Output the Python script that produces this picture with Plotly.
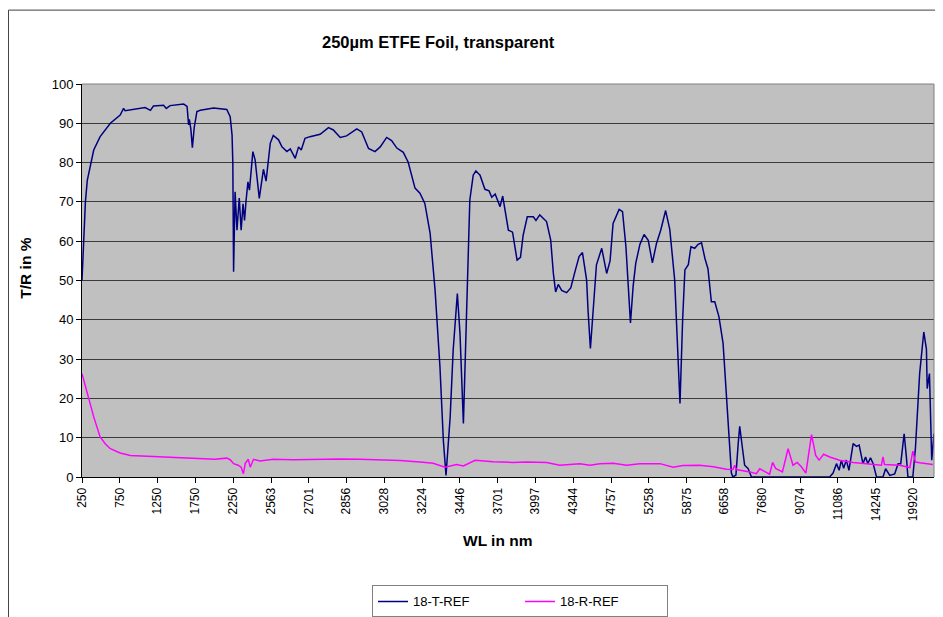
import plotly.graph_objects as go

# Category tick labels (wavelength in nm), evenly spaced on the category axis
tick_labels = ["250", "750", "1250", "1750", "2250", "2563", "2701", "2856", "3028",
               "3224", "3446", "3701", "3997", "4344", "4757", "5258", "5875", "6658",
               "7680", "9074", "11086", "14245", "19920"]

# 18-T-REF transmission: position (in tick-label units) and value (%)
t_pos = [0, 0.03, 0.09, 0.14, 0.22, 0.31, 0.48, 0.75, 1.01, 1.10, 1.14, 1.41, 1.67, 1.81,
         1.89, 2.16, 2.23, 2.33, 2.69, 2.78, 2.82, 2.84, 2.88, 2.92, 2.97, 3.04, 3.13, 3.48,
         3.83, 3.92, 3.97, 3.99, 4.01, 4.05, 4.10, 4.16, 4.21, 4.26, 4.30, 4.34, 4.39, 4.43,
         4.52, 4.58, 4.69, 4.80, 4.87, 4.98, 5.06, 5.20, 5.29, 5.42, 5.51, 5.64, 5.73, 5.80,
         5.90, 6.03, 6.30, 6.52, 6.65, 6.83, 7.00, 7.27, 7.40, 7.58, 7.75, 7.89, 8.06, 8.19,
         8.33, 8.50, 8.63, 8.81, 8.94, 9.07, 9.21, 9.34, 9.47, 9.56, 9.63, 9.74, 9.82, 9.93,
         10.00, 10.09, 10.18, 10.26, 10.35, 10.42, 10.53, 10.66, 10.77, 10.84, 10.93, 11.06,
         11.13, 11.19, 11.28, 11.39, 11.51, 11.60, 11.67, 11.78, 11.94, 12.01, 12.11, 12.29,
         12.40, 12.47, 12.53, 12.60, 12.69, 12.82, 12.93, 13.04, 13.15, 13.24, 13.35, 13.39,
         13.45, 13.52, 13.61, 13.75, 13.88, 13.97, 14.05, 14.21, 14.30, 14.39, 14.45, 14.51,
         14.58, 14.65, 14.76, 14.87, 14.98, 15.09, 15.20, 15.31, 15.44, 15.55, 15.68, 15.74,
         15.82, 15.89, 15.95, 16.04, 16.11, 16.21, 16.30, 16.39, 16.48, 16.56, 16.65, 16.74,
         16.85, 16.96, 17.05, 17.14, 17.18, 17.22, 17.30, 17.36, 17.40, 17.47, 17.53, 17.62,
         17.71, 19.78, 19.87, 19.96, 20.03, 20.09, 20.15, 20.22, 20.29, 20.40, 20.49, 20.56,
         20.66, 20.73, 20.79, 20.86, 20.93, 21.02, 21.19, 21.26, 21.37, 21.50, 21.59, 21.66,
         21.75, 21.81, 21.85, 21.98, 22.05, 22.16, 22.27, 22.34, 22.36, 22.42, 22.48, 22.54]
t_val = [50, 58, 70, 75.5, 79.4, 83.2, 86.6, 90, 92.1, 93.8, 93.2, 93.6, 94, 93.3,
         94.4, 94.6, 93.8, 94.5, 94.9, 94.3, 89.6, 91, 88.5, 83.8, 89, 93, 93.3, 93.9,
         93.5, 91.7, 87, 80, 52.2, 72.6, 62.8, 71, 62.8, 69.5, 65.3, 70.3, 75.1, 73,
         82.8, 80.7, 70.9, 78.3, 75.3, 84.9, 86.9, 85.8, 84, 82.8, 83.5, 81.1, 84, 83.2,
         86.2, 86.6, 87.2, 88.9, 88.3, 86.4, 86.8, 88.6, 87.8, 83.6, 82.8, 84, 86.4, 85.6,
         83.7, 82.6, 80.1, 73.5, 72.2, 69.6, 62, 47.6, 28, 9.3, 0.4, 15.3, 32.3, 46.7,
         36.5, 13.6, 45, 70.5, 76.8, 77.9, 76.8, 73.2, 72.8, 71.2, 72, 68.8,
         71.5, 68.2, 62.8, 62.3, 55.2, 55.9, 61.5, 66.2, 66.2, 65.3, 66.7, 65,
         60.3, 51.8, 47.1, 49, 47.5, 46.9, 48.1, 52.2, 56.1, 57.1, 50.1, 42,
         32.7, 42, 54, 58.2, 51.8, 55, 64.5, 68.1, 67.5, 58.6, 47, 39.2,
         48.5, 54.4, 59.2, 61.7, 60.2, 54.5, 59.5, 62.8, 67.8, 63, 50.1, 35,
         18.7, 40, 52.7, 54, 58.6, 58.2, 59.2, 59.6, 55.6, 53, 44.6, 44.6,
         40.8, 34, 21.2, 8.5, 1, 0, 0.5, 8.5, 12.9, 7.5, 3, 2.2,
         0, 0, 1, 3.4, 1.7, 4.3, 2.2, 4.3, 1.7, 8.5, 7.8, 8.1,
         3.4, 5.1, 3.4, 4.9, 3.4, 0, 0, 2.1, 0.4, 0.8, 3.4, 3.4,
         11, 5, 0, 0, 7.5, 26.3, 36.9, 32.5, 22.5, 26.3, 4.25, 11]

# 18-R-REF reflection: position (in tick-label units) and value (%)
r_pos = [0, 0.09, 0.17, 0.31, 0.48, 0.62, 0.75, 1.01, 1.28, 1.67, 2.07, 2.60, 3.13, 3.52,
         3.83, 3.92, 4.01, 4.13, 4.21, 4.27, 4.32, 4.40, 4.45, 4.54, 4.71, 5.06, 5.59, 6.12,
         6.83, 7.36, 7.89, 8.41, 8.94, 9.29, 9.60, 9.91, 10.09, 10.40, 10.88, 11.41, 11.76,
         12.29, 12.64, 13.00, 13.17, 13.44, 13.70, 14.05, 14.41, 14.76, 15.29, 15.64, 15.90,
         16.34, 16.70, 17.05, 17.22, 17.27, 17.31, 17.67, 17.84, 17.93, 18.06, 18.19, 18.27,
         18.35, 18.53, 18.68, 18.81, 18.92, 19.03, 19.15, 19.30, 19.41, 19.50, 19.62, 19.78,
         20.04, 20.40, 20.75, 21.15, 21.19, 21.23, 21.63, 21.90, 21.98, 22.05, 22.16, 22.51]
r_val = [26.3, 23.2, 20.4, 15.3, 10.2, 8.4, 7.2, 6.1, 5.5, 5.3, 5.1, 5.0, 4.7, 4.5,
         4.8, 4.4, 3.4, 3.0, 2.5, 0.85, 3.5, 4.5, 2.5, 4.5, 4.1, 4.5, 4.4, 4.5,
         4.6, 4.5, 4.4, 4.2, 3.8, 3.5, 2.5, 3.2, 2.8, 4.25, 3.9, 3.7, 3.8,
         3.7, 3.0, 3.3, 3.4, 3.0, 3.4, 3.5, 3.0, 3.4, 3.4, 2.5, 2.9,
         3.0, 2.6, 1.96, 1.9, 3.0, 1.9, 1.3, 0.85, 2.1, 1.3, 0.7, 3.7,
         2.2, 1.3, 7.2, 3.0, 3.7, 2.6, 1.0, 10.8, 5.5, 4.3, 5.8, 5.1,
         4.25, 3.7, 3.4, 3.0, 5.1, 3.2, 3.0, 2.4, 6.6, 3.8, 3.6, 3.2]

y_ticks = list(range(0, 101, 10))

FONT = "Liberation Sans, Arial, sans-serif"

fig = go.Figure()
fig.add_trace(go.Scatter(x=t_pos, y=t_val, mode="lines", name="18-T-REF",
                         line=dict(color="#000080", width=1.5)))
fig.add_trace(go.Scatter(x=r_pos, y=r_val, mode="lines", name="18-R-REF",
                         line=dict(color="#FF00FF", width=1.5)))

fig.update_layout(
    width=935, height=609,
    margin=dict(l=74, r=9, t=76, b=140, autoexpand=False),
    paper_bgcolor="white",
    plot_bgcolor="#C0C0C0",
    font=dict(family=FONT, size=12, color="black"),
    showlegend=True,
    legend=dict(orientation="h", x=0.3404, y=-0.276, xanchor="left", yanchor="top",
                bordercolor="#808080", borderwidth=1, bgcolor="white",
                font=dict(size=13), itemwidth=30, entrywidth=102),
    xaxis=dict(range=[0, 22.54], tickmode="array", tickvals=list(range(len(tick_labels))),
               ticktext=tick_labels, tickangle=-90, ticks="outside", ticklen=5,
               tickcolor="black", showline=True, linecolor="black", linewidth=1,
               showgrid=False, zeroline=False, tickfont=dict(size=12)),
    yaxis=dict(range=[0, 100], tickmode="array", tickvals=y_ticks, ticks="outside",
               ticklen=5, tickcolor="black", showline=True, linecolor="black",
               linewidth=1, showgrid=True, gridcolor="#3a3a3a", gridwidth=1,
               zeroline=False, tickfont=dict(size=13)),
    shapes=[
        dict(type="line", xref="paper", yref="paper", x0=0, x1=1, y0=1, y1=1,
             line=dict(color="#808080", width=1)),
        dict(type="line", xref="paper", yref="paper", x0=1, x1=1, y0=0, y1=1,
             line=dict(color="#808080", width=1)),
        dict(type="rect", xref="paper", yref="paper", x0=-0.0863, x1=1.007, y0=-0.37, y1=1.188,
             line=dict(color="#404040", width=1)),
    ],
    annotations=[
        dict(text="<b>250µm ETFE Foil, transparent</b>", xref="paper", yref="paper",
             x=0.418, y=1.107, showarrow=False, font=dict(size=16.5), xanchor="center",
             yanchor="middle"),
        dict(text="<b>WL in nm</b>", xref="paper", yref="paper", x=0.4877, y=-0.161,
             showarrow=False, font=dict(size=15.5), xanchor="center", yanchor="middle"),
        dict(text="<b>T/R in %</b>", xref="paper", yref="paper", x=-0.0665, y=0.531,
             showarrow=False, textangle=-90, font=dict(size=15.5), xanchor="center",
             yanchor="middle"),
    ],
)

fig.write_html("out.html")
